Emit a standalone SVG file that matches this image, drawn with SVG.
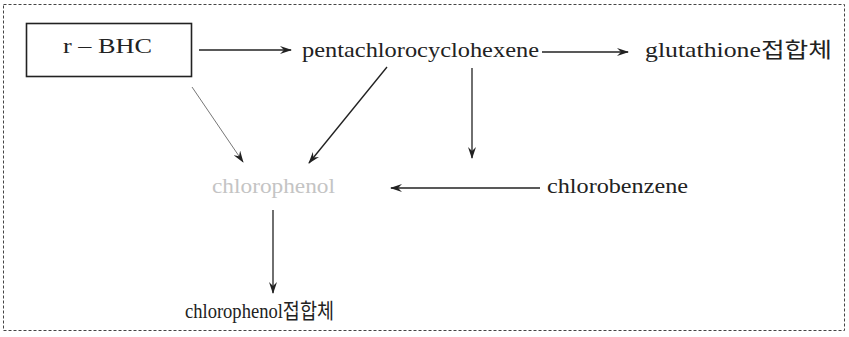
<svg xmlns="http://www.w3.org/2000/svg" width="849" height="337" viewBox="0 0 849 337">
  <style>
    .lbl { font-family: "Liberation Serif", "Noto Sans CJK KR", serif; font-size: 21px; fill: #222; }
    .faint { fill: #c4c4c4; }
    .edge { stroke: #222; stroke-width: 1.3; fill: none; marker-end: url(#head); }
    .thin { stroke: #777; stroke-width: 1; }
  </style>
  <defs>
    <marker id="head" viewBox="0 0 12 8" refX="11" refY="4" markerWidth="12" markerHeight="8" markerUnits="userSpaceOnUse" orient="auto">
      <path d="M0,0 L12,4 L0,8 L4,4 z" fill="#222"/>
    </marker>
  </defs>
  <rect width="849" height="337" fill="#fff"/>
  <!-- outer frame -->
  <rect x="3.5" y="4.5" width="841" height="326" fill="none" stroke="#444" stroke-width="1" stroke-dasharray="3,2"/>

  <g id="bhc">
    <rect x="26.5" y="23.5" width="165" height="53" fill="none" stroke="#222" stroke-width="1.6"/>
    <text class="lbl" x="63" y="53" font-size="22" textLength="89" lengthAdjust="spacingAndGlyphs">r – BHC</text>
  </g>
  <g id="pentachlorocyclohexene">
    <text class="lbl" x="302" y="57" textLength="237" lengthAdjust="spacingAndGlyphs">pentachlorocyclohexene</text>
  </g>
  <g id="glutathione">
    <text class="lbl" x="645" y="57" textLength="187" lengthAdjust="spacingAndGlyphs">glutathione접합체</text>
  </g>
  <g id="chlorophenol">
    <text class="lbl faint" x="212" y="193" textLength="123" lengthAdjust="spacingAndGlyphs">chlorophenol</text>
  </g>
  <g id="chlorobenzene">
    <text class="lbl" x="547" y="193" textLength="141" lengthAdjust="spacingAndGlyphs">chlorobenzene</text>
  </g>
  <g id="chlorophenol-conjugate">
    <text class="lbl" x="185" y="318" textLength="149" lengthAdjust="spacingAndGlyphs">chlorophenol접합체</text>
  </g>

  <g id="connectors">
    <line class="edge" x1="199" y1="50" x2="291" y2="50"/>
    <line class="edge" x1="542" y1="52" x2="628" y2="52"/>
    <line class="edge thin" x1="192" y1="87" x2="243" y2="162"/>
    <line class="edge" x1="387" y1="67" x2="309" y2="163"/>
    <line class="edge" x1="472" y1="68" x2="472" y2="158"/>
    <line class="edge" x1="540" y1="188" x2="391" y2="188"/>
    <line class="edge" x1="273" y1="210" x2="273" y2="293"/>
  </g>
</svg>
